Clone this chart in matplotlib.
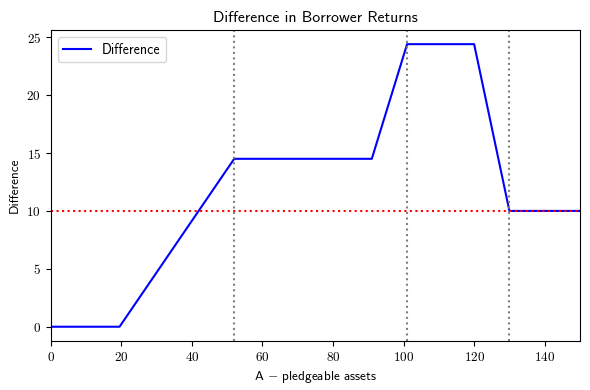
import matplotlib
matplotlib.use("Agg")
import matplotlib.pyplot as plt

A = [0, 19.5, 52, 91, 101, 120, 130, 150]
diff = [0, 0, 14.5, 14.5, 24.4, 24.4, 10, 10]
cutoffs = [52, 101, 130]
ref_level = 10

plt.rcParams['font.family'] = 'cmss10'
plt.rcParams['font.size'] = 9.5
plt.rcParams['axes.formatter.use_mathtext'] = True
plt.rcParams['mathtext.fontset'] = 'cm'

fig, ax = plt.subplots(figsize=(5.9, 3.9), dpi=100)
ax.plot(A, diff, color='blue', label='Difference')
ax.axhline(ref_level, color='red', linestyle=':')
for c in cutoffs:
    ax.axvline(c, color='gray', linestyle=':')

ax.set_xlim(0, 150)
ax.set_title('Difference in Borrower Returns')
ax.set_xlabel('A $-$ pledgeable assets')
ax.set_ylabel('Difference')
for lab in ax.get_xticklabels() + ax.get_yticklabels():
    lab.set_fontfamily('cmr10')
ax.legend(loc='upper left', fontsize=10)

fig.subplots_adjust(left=0.086, right=0.983, top=0.923, bottom=0.126)
fig.savefig('out.png')
